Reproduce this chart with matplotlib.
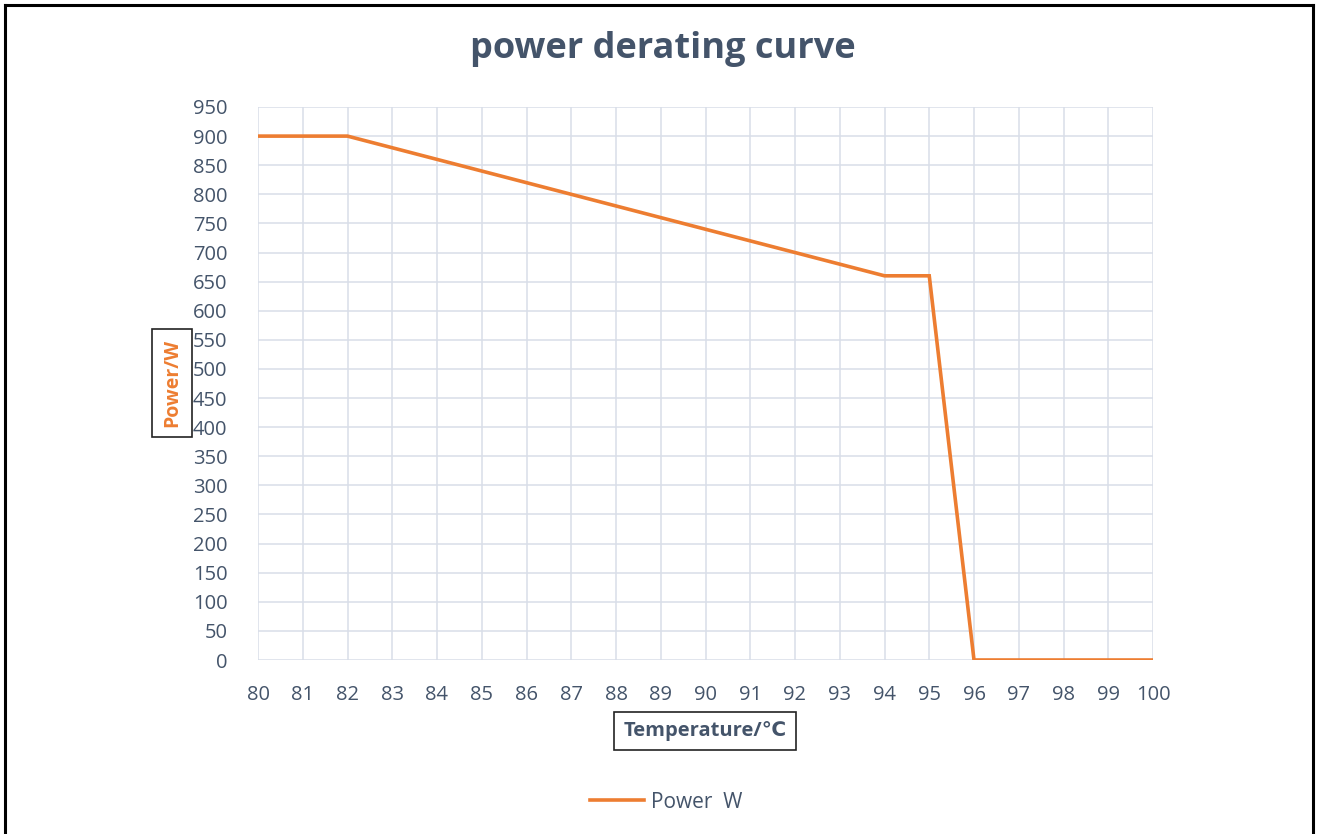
import matplotlib.pyplot as plt
from matplotlib.lines import Line2D

temps = [80, 81, 82, 83, 84, 85, 86, 87, 88, 89, 90, 91, 92, 93, 94, 95, 96, 97, 98, 99, 100]
power = [900, 900, 900, 880, 860, 840, 820, 800, 780, 760, 740, 720, 700, 680, 660, 660, 0, 0, 0, 0, 0]
y_ticks = list(range(0, 951, 50))

plt.rcParams['font.family'] = ['Open Sans', 'DejaVu Sans']
text_color = '#44546A'
orange = '#ED7D31'

fig = plt.figure(figsize=(13.18, 8.34), dpi=100)
ax = fig.add_axes([258 / 1318, 1 - 660 / 834, (1153 - 258) / 1318, (660 - 107) / 834])

ax.plot(temps, power, color=orange, linewidth=2.6, label='Power  W', solid_joinstyle='miter')

ax.set_xlim(80, 100)
ax.set_ylim(0, 950)
ax.set_xticks(temps)
ax.set_yticks(y_ticks)
ax.grid(True, color='#D9DEE8', linewidth=1.1)
ax.set_axisbelow(True)
for s in ax.spines.values():
    s.set_visible(False)
ax.tick_params(length=0, labelsize=14.5, labelcolor=text_color)
ax.tick_params(axis='x', pad=18)
ax.tick_params(axis='y', pad=22)

fig.text(663 / 1318, 1 - 49 / 834, 'power derating curve', ha='center', va='center',
         fontsize=26, fontweight='bold', color=text_color)

fig.text(172 / 1318, 1 - 383 / 834, 'Power/W', rotation=90, ha='center', va='center',
         fontsize=14, fontweight='bold', color=orange,
         bbox=dict(boxstyle='square,pad=0.5', facecolor='white', edgecolor='#222222', linewidth=1.2))
fig.text(705 / 1318, 1 - 731 / 834, 'Temperature/℃', ha='center', va='center',
         fontsize=14.5, fontweight='bold', color=text_color,
         bbox=dict(boxstyle='square,pad=0.45', facecolor='white', edgecolor='#222222', linewidth=1.2))

# legend at bottom
handle = Line2D([], [], color=orange, linewidth=2.6)
fig.legend([handle], ['Power  W'], loc='center', bbox_to_anchor=(666 / 1318, 1 - 802 / 834),
           frameon=False, fontsize=15, labelcolor=text_color, handlelength=2.6, handletextpad=0.3)

# outer frame lines
fig.add_artist(Line2D([5 / 1318, 1313 / 1318], [1 - 5 / 834, 1 - 5 / 834], color='black', linewidth=2.2))
fig.add_artist(Line2D([5 / 1318, 5 / 1318], [0, 1 - 5 / 834], color='black', linewidth=2.2))
fig.add_artist(Line2D([1313 / 1318, 1313 / 1318], [0, 1 - 5 / 834], color='black', linewidth=2.2))

fig.savefig('out.png', dpi=100)
